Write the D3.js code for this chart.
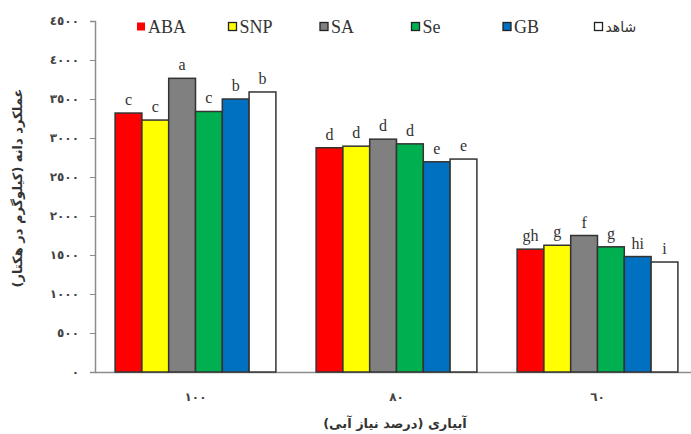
<!DOCTYPE html>
<html>
<head>
<meta charset="utf-8">
<script src="https://cdn.jsdelivr.net/npm/d3@7"></script>
<style>
  body { margin: 0; background: #fff; }
  svg { display: block; }
</style>
</head>
<body>
<svg id="chart"></svg>
<script>
// data
const groups = ["100", "80", "60"];
const series = ["ABA", "SNP", "SA", "Se", "GB", "شاهد"];
const colors = ["#ff0000", "#ffff00", "#808080", "#00b050", "#0070c0", "#ffffff"];
const values = [
  [3320, 3230, 3765, 3340, 3500, 3590],
  [2875, 2895, 2985, 2925, 2695, 2730],
  [1575, 1625, 1750, 1605, 1480, 1410]
];
const letters = [
  ["c", "c", "a", "c", "b", "b"],
  ["d", "d", "d", "d", "e", "e"],
  ["gh", "g", "f", "g", "hi", "i"]
];
const yTicks = [0, 500, 1000, 1500, 2000, 2500, 3000, 3500, 4000, 4500];

// arabic-indic digits
const arDigits = s => String(s).replace(/[0-9]/g, d => String.fromCharCode(0x0660 + +d));

const svgW = 691, svgH = 434;
const margin = { top: 21, right: -7, bottom: 62, left: 95 };
const width = svgW - margin.left - margin.right;
const height = svgH - margin.top - margin.bottom;

const root = d3.select("#chart").attr("width", svgW).attr("height", svgH);
const svg = root.append("g").attr("transform", `translate(${margin.left},${margin.top})`);

const x0 = d3.scaleBand().domain(groups).range([0, width]).paddingInner(0.2).paddingOuter(0.1);
const x1 = d3.scaleBand().domain(series).range([0, x0.bandwidth()]);
const y = d3.scaleLinear().domain([0, 4500]).range([height, 0]);

// y axis
const yAxis = svg.append("g")
  .call(d3.axisLeft(y).tickValues(yTicks).tickSize(5).tickFormat(arDigits));
yAxis.select(".domain").attr("stroke", "#8c8c8c").attr("stroke-width", 1.5);
yAxis.selectAll(".tick line").attr("stroke", "#8c8c8c");
yAxis.selectAll(".tick text")
  .attr("x", -16)
  .style("font-family", "DejaVu Sans")
  .style("font-size", "12px")
  .style("font-weight", "bold")
  .style("fill", "#444");

// x axis
const xAxis = svg.append("g")
  .attr("transform", `translate(0,${height})`)
  .call(d3.axisBottom(x0).tickSize(0).tickPadding(20).tickFormat(arDigits));
xAxis.select(".domain").attr("stroke", "#8c8c8c").attr("stroke-width", 1.5);
xAxis.selectAll(".tick text")
  .style("font-family", "DejaVu Sans")
  .style("font-size", "12px")
  .style("font-weight", "bold")
  .style("fill", "#444");

// bars
const gGroups = svg.selectAll("g.grp")
  .data(groups)
  .enter()
  .append("g")
  .attr("class", "grp")
  .attr("transform", d => `translate(${x0(d)},0)`);

gGroups.selectAll("rect")
  .data((g, gi) => series.map((s, si) => ({ s, si, v: values[gi][si], l: letters[gi][si] })))
  .enter()
  .append("rect")
  .attr("x", d => x1(d.s))
  .attr("y", d => y(d.v))
  .attr("width", x1.bandwidth())
  .attr("height", d => height - y(d.v))
  .attr("fill", d => colors[d.si])
  .attr("stroke", "#333")
  .attr("stroke-width", 1.5);

gGroups.selectAll("text.lbl")
  .data((g, gi) => series.map((s, si) => ({ s, v: values[gi][si], l: letters[gi][si] })))
  .enter()
  .append("text")
  .attr("class", "lbl")
  .attr("x", d => x1(d.s) + x1.bandwidth() / 2)
  .attr("y", d => y(d.v) - 8)
  .attr("text-anchor", "middle")
  .style("font-family", "Liberation Serif")
  .style("font-size", "16px")
  .style("fill", "#333")
  .text(d => d.l);

// legend
const legend = root.append("g").attr("transform", "translate(137,27)");
const li = legend.selectAll("g")
  .data(series)
  .enter()
  .append("g")
  .attr("transform", (d, i) => `translate(${i * 91.5},0)`);
li.append("rect")
  .attr("x", 0).attr("y", -4.5)
  .attr("width", 8).attr("height", 8)
  .attr("fill", (d, i) => colors[i])
  .attr("stroke", (d, i) => i === 0 ? "none" : "#222")
  .attr("stroke-width", 1.3);
li.append("text")
  .attr("x", 11)
  .attr("dy", "0.35em")
  .style("font-family", (d, i) => i === 5 ? "DejaVu Sans" : "Liberation Serif")
  .style("font-size", (d, i) => i === 5 ? "14px" : "18px")
  .style("fill", "#333")
  .text(d => d);

// axis titles
root.append("text")
  .attr("x", 395)
  .attr("y", 428)
  .attr("text-anchor", "middle")
  .style("font-family", "DejaVu Sans")
  .style("font-size", "13px")
  .style("font-weight", "bold")
  .style("fill", "#333")
  .text("آبیاری (درصد نیاز آبی)");

root.append("text")
  .attr("transform", "translate(22,188) rotate(-90)")
  .attr("text-anchor", "middle")
  .style("font-family", "DejaVu Sans")
  .style("font-size", "13px")
  .style("font-weight", "bold")
  .style("fill", "#333")
  .text("عملکرد دانه (کیلوگرم در هکتار)");
</script>
</body>
</html>
